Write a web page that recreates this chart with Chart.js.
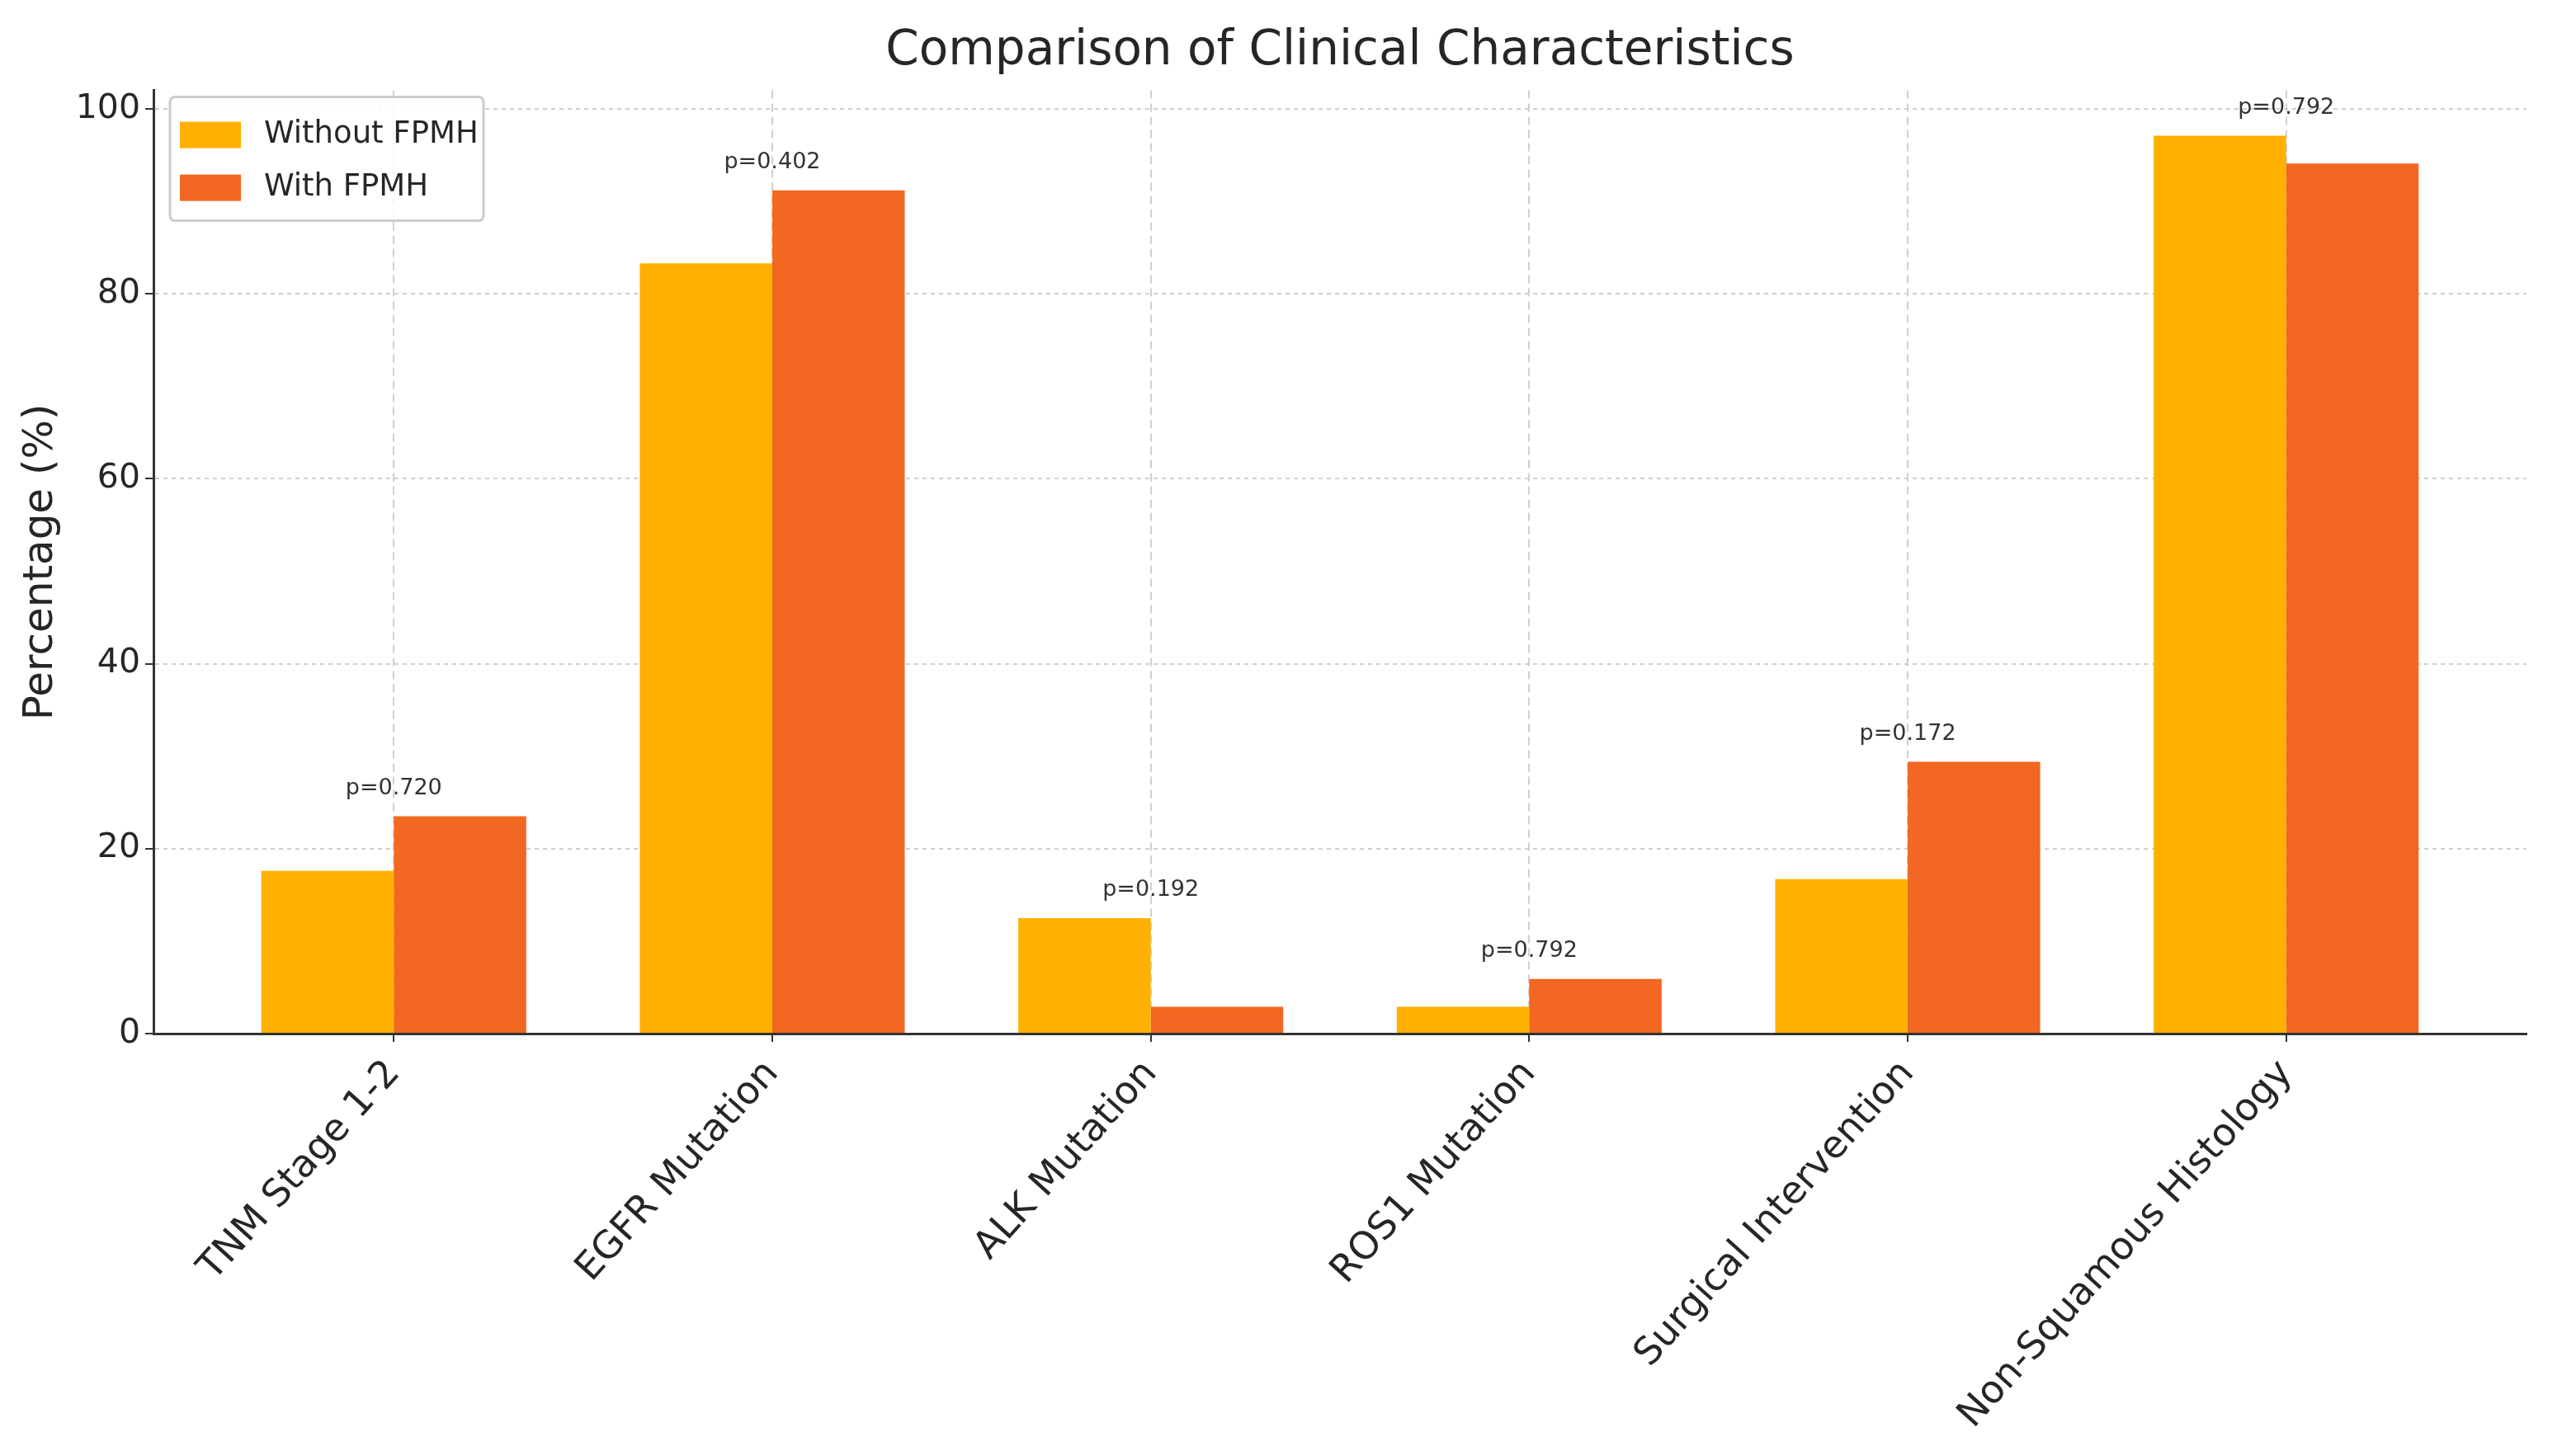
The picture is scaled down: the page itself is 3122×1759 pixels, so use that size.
<!DOCTYPE html>
<html>
<head>
<meta charset="utf-8">
<script src="https://cdn.jsdelivr.net/npm/chart.js@4.4.1/dist/chart.umd.min.js"></script>
<style>
  html, body { margin: 0; padding: 0; background: #fff; }
  canvas { display: block; }
</style>
</head>
<body>
<canvas id="clinicalChart" width="3122" height="1759"></canvas>
<script>
// data
const categories = ['TNM Stage 1-2', 'EGFR Mutation', 'ALK Mutation', 'ROS1 Mutation', 'Surgical Intervention', 'Non-Squamous Histology'];
const withoutFpmh = [17.6, 83.3, 12.5, 2.9, 16.7, 97.1];
const withFpmh = [23.5, 91.2, 2.9, 5.9, 29.4, 94.1];
const pValues = ['p=0.720', 'p=0.402', 'p=0.192', 'p=0.792', 'p=0.172', 'p=0.792'];
const yTicks = [0, 20, 40, 60, 80, 100];

const FONT = "'DejaVu Sans', sans-serif";
const TEXT = '#262626';

// p-value text above each pair of bars
const pValuePlugin = {
    id: 'pValues',
    afterDatasetsDraw(chart) {
        const ctx = chart.ctx;
        const x = chart.scales.x, y = chart.scales.y;
        ctx.save();
        ctx.font = '27px ' + FONT;
        ctx.fillStyle = '#333';
        ctx.textAlign = 'center';
        ctx.textBaseline = 'bottom';
        categories.forEach((c, i) => {
            const top = Math.max(withoutFpmh[i], withFpmh[i]);
            ctx.fillText(pValues[i], x.getPixelForValue(i), y.getPixelForValue(top + 1.8));
        });
        ctx.restore();
    }
};

// legend box in the upper left corner of the plot
const innerLegend = {
    id: 'innerLegend',
    afterDraw(chart) {
        const ctx = chart.ctx;
        const area = chart.chartArea;
        const bx = area.left + 20, by = area.top + 8, bw = 380, bh = 150;
        ctx.save();
        ctx.fillStyle = 'rgba(255,255,255,0.85)';
        ctx.strokeStyle = '#cccccc';
        ctx.lineWidth = 3;
        ctx.beginPath();
        ctx.roundRect(bx, by, bw, bh, 6);
        ctx.fill();
        ctx.stroke();
        ctx.font = '37px ' + FONT;
        ctx.textBaseline = 'middle';
        chart.data.datasets.forEach((ds, i) => {
            const rowY = by + 46 + i * 64;
            ctx.fillStyle = ds.backgroundColor;
            ctx.fillRect(bx + 12, rowY - 16, 74, 32);
            ctx.fillStyle = TEXT;
            ctx.fillText(ds.label, bx + 114, rowY);
        });
        ctx.restore();
    }
};

const ctx = document.getElementById('clinicalChart').getContext('2d');
const clinicalChart = new Chart(ctx, {
    type: 'bar',
    data: {
        datasets: [{
            label: 'Without FPMH',
            data: withoutFpmh.map((v, i) => ({ x: i, y: v })),
            backgroundColor: '#FFB000',
            categoryPercentage: 0.7,
            barPercentage: 1.0
        }, {
            label: 'With FPMH',
            data: withFpmh.map((v, i) => ({ x: i, y: v })),
            backgroundColor: '#F26722',
            categoryPercentage: 0.7,
            barPercentage: 1.0
        }]
    },
    options: {
        responsive: false,
        animation: false,
        devicePixelRatio: 1,
        layout: { padding: { left: 0, right: 60, top: 0, bottom: 0 } },
        plugins: {
            legend: { display: false },
            tooltip: { enabled: false },
            title: {
                display: true,
                fullSize: false,
                text: 'Comparison of Clinical Characteristics',
                color: TEXT,
                font: { family: FONT, size: 58, weight: 'normal' },
                padding: { top: 28, bottom: 12 }
            }
        },
        scales: {
            x: {
                type: 'linear',
                min: -0.635,
                max: 5.635,
                offset: false,
                afterBuildTicks(scale) {
                    scale.ticks = categories.map((c, i) => ({ value: i }));
                },
                afterFit(scale) { scale.height = 506; },
                ticks: {
                    autoSkip: false,
                    minRotation: 48,
                    maxRotation: 48,
                    padding: 12,
                    color: TEXT,
                    font: { family: FONT, size: 46 },
                    callback: (v) => categories[v]
                },
                grid: {
                    offset: false,
                    color: '#d0d0d0',
                    lineWidth: 2,
                    tickColor: '#333',
                    tickLength: 10,
                    tickWidth: 2,
                    tickBorderDash: []
                },
                border: { display: true, color: '#333', width: 3, dash: [10, 6] }
            },
            y: {
                min: 0,
                max: 102,
                afterBuildTicks(scale) {
                    scale.ticks = yTicks.map(v => ({ value: v }));
                },
                afterFit(scale) { scale.width = 186; },
                ticks: {
                    padding: 6,
                    color: TEXT,
                    font: { family: FONT, size: 41 }
                },
                title: {
                    display: true,
                    text: 'Percentage (%)',
                    color: TEXT,
                    font: { family: FONT, size: 50 },
                    padding: { top: 20, bottom: 0 }
                },
                grid: {
                    color: '#d0d0d0',
                    lineWidth: 2,
                    tickColor: '#333',
                    tickLength: 10,
                    tickWidth: 2,
                    tickBorderDash: []
                },
                border: { display: true, color: '#333', width: 3, dash: [5, 5] }
            }
        }
    },
    plugins: [pValuePlugin, innerLegend]
});
</script>
</body>
</html>
